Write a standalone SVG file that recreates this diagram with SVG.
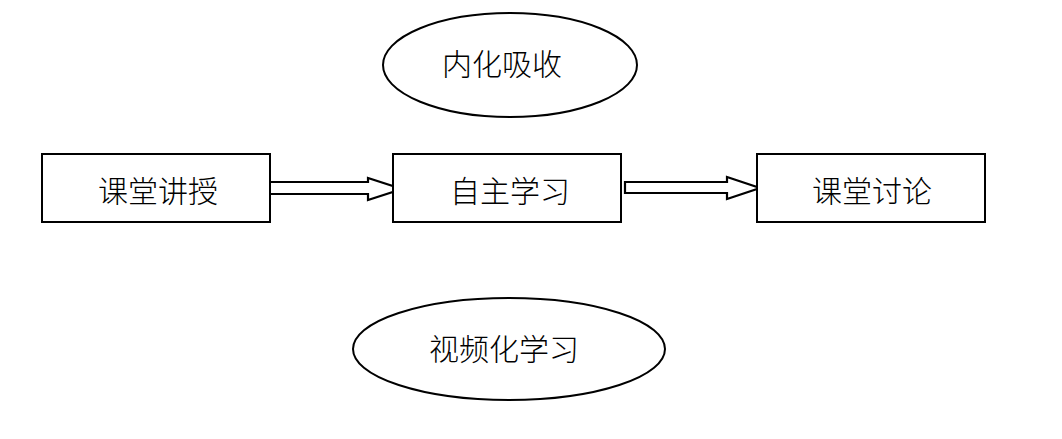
<svg xmlns="http://www.w3.org/2000/svg" width="1062" height="439" viewBox="0 0 1062 439">
<style>
.shape{fill:#fff;stroke:#000;stroke-width:2}
.arrow{fill:#fff;stroke:#000;stroke-width:2.2;stroke-linejoin:miter}
.label{font-family:"Noto Sans CJK SC","Liberation Sans",sans-serif;font-size:30px;font-weight:300;fill:#000;text-anchor:middle;dominant-baseline:central}
</style>
<rect width="1062" height="439" fill="#fff"/>
<g id="connectors">
<polygon class="arrow" points="268,182 368,182 368,178 402,189 368,200 368,194 268,194"/>
<polygon class="arrow" points="625,182 727,182 727,177 760,188 727,199 727,193 625,193"/>
</g>
<g id="node-neihua">
<ellipse class="shape" cx="510" cy="65" rx="127" ry="52"/>
<text class="label" x="502" y="62">内化吸收</text>
</g>
<g id="node-ketang-jiangshou">
<rect class="shape" x="42" y="154" width="228" height="68"/>
<text class="label" x="158" y="189">课堂讲授</text>
</g>
<g id="node-zizhu">
<rect class="shape" x="393" y="154" width="228" height="68"/>
<text class="label" x="510" y="189">自主学习</text>
</g>
<g id="node-ketang-taolun">
<rect class="shape" x="757" y="154" width="228" height="68"/>
<text class="label" x="872" y="189">课堂讨论</text>
</g>
<g id="node-shipin">
<ellipse class="shape" cx="509" cy="349" rx="156" ry="51"/>
<text class="label" x="504" y="347">视频化学习</text>
</g>
</svg>
